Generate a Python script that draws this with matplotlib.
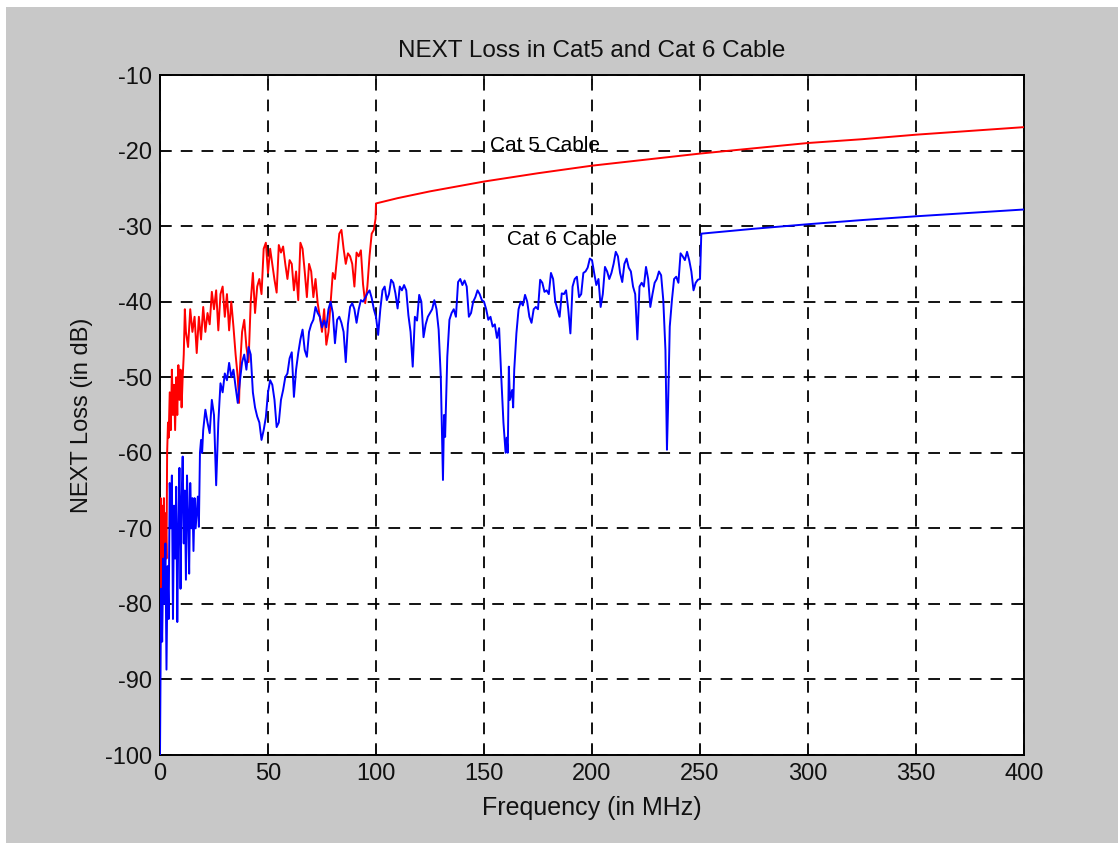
import matplotlib
matplotlib.use("Agg")
import matplotlib.pyplot as plt
from matplotlib.patches import Rectangle

# ---------------- data ----------------
cat5_freq = [0, 0.3, 0.7, 1, 1.4, 1.8, 2.2, 2.6, 3, 3.3, 3.7, 4, 4.5, 5, 5.5, 6, 6.5, 7, 7.5, 8,
             8.5, 9, 9.5, 10, 10.5, 11, 11.5, 12, 13, 14, 15, 16, 17, 18, 19, 20, 21, 22, 23, 24,
             25, 26, 27, 28, 29, 30, 31, 32, 33, 34, 35, 36, 36.6, 37, 38, 39, 40, 41, 42, 43,
             44, 45, 46, 47, 48, 49, 50, 51, 52, 53, 54, 55, 56, 57, 58, 59, 60, 61, 62, 63,
             64, 65, 66, 67, 68, 69, 70, 71, 72, 73, 74, 75, 76, 77, 78, 79, 80, 81, 82, 83,
             84, 85, 86, 87, 88, 89, 90, 91, 92, 93, 94, 95, 96, 97, 98, 99, 99.8, 100,
             110, 125, 150, 175, 200, 225, 250, 275, 300, 325, 350, 375, 400]
cat5_next = [-85, -66, -79, -67, -77, -66, -78, -68, -74, -60, -56, -58, -52, -57, -49, -55, -51, -57, -50, -55,
             -48.4, -53, -49, -54, -50, -47, -41, -44, -46, -41, -44, -42, -46.8, -42, -45, -40.7, -44, -41.5, -43, -38.7,
             -41, -38.5, -43.8, -39, -38, -42, -39, -43.8, -40, -43.3, -47, -50, -53.4, -49, -44, -42.4, -46, -48, -40, -36.2,
             -41.5, -38, -37, -39, -33, -32.2, -36.2, -33, -35, -37.1, -38.8, -32.5, -33.5, -32.7, -35, -37, -34.5, -35, -38.5, -36,
             -39.8, -32.2, -33, -36, -39.4, -35, -36, -39.4, -37, -40.2, -42, -44, -41, -45.7, -44, -40, -36.2, -37, -34, -31,
             -30.5, -33, -35, -33.6, -34, -35, -38, -33.5, -34, -33.2, -37.7, -40.2, -38, -34, -31, -30.5, -29, -27,
             -26.3, -25.4, -24.1, -23.0, -22.0, -21.2, -20.4, -19.7, -19.0, -18.5, -17.9, -17.4, -16.9]

cat6_freq = [0, 0.5, 1, 1.5, 2, 2.5, 3, 3.5, 4, 4.5, 5, 5.5, 6, 6.5, 7, 7.5, 8, 8.5, 9, 9.5,
             10, 10.5, 11, 11.5, 12, 12.5, 13, 13.5, 14, 14.5, 15, 15.5, 16, 16.5, 17, 17.5, 18, 18.5, 19, 19.5,
             20, 21, 22, 23, 24, 25, 26, 27, 28, 29, 30, 31, 32, 33, 34, 35, 36, 37, 38, 39,
             40, 41, 42, 43, 44, 45, 46, 47, 48, 49, 50, 51, 52, 53, 54, 55, 56, 57, 58, 59,
             60, 61, 62, 63, 64, 65, 66, 67, 68, 69, 70, 71, 72, 73, 74, 75, 76, 77, 78, 79,
             80, 81, 82, 83, 84, 85, 86, 87, 88, 89, 90, 91, 92, 93, 94, 95, 96, 97, 98, 99,
             100, 101, 102, 103, 104, 105, 106, 107, 108, 109, 110, 111, 112, 113, 114, 115, 116, 117, 118, 119,
             120, 121, 122, 123, 124, 125, 126, 127, 128, 129, 130, 131, 131.5, 132, 133, 134, 135, 136, 137, 138,
             139, 140, 141, 142, 143, 144, 145, 146, 147, 148, 149, 150, 151, 152, 153, 154, 155, 156, 157, 158,
             159, 160, 160.5, 161, 161.5, 162, 163, 163.5, 164, 165, 166, 167, 168, 169, 170, 171, 172, 173, 174, 175,
             176, 177, 178, 179, 180, 181, 182, 183, 184, 185, 186, 187, 188, 189, 190, 191, 192, 193, 194, 195,
             196, 197, 198, 199, 200, 201, 202, 203, 204, 205, 206, 207, 208, 209, 210, 211, 212, 213, 214, 215,
             216, 217, 218, 219, 220, 221, 222, 223, 224, 225, 226, 227, 228, 229, 230, 231, 232, 233, 234, 234.7,
             235.2, 236, 237, 238, 239, 240, 241, 242, 243, 244, 245, 246, 247, 248, 249, 250, 250.6,
             275, 300, 325, 350, 375, 400]
cat6_next = [-100, -78, -85, -74, -80, -72, -88.7, -75, -82, -64, -70, -63, -82, -67, -74, -64.5, -82.4, -70, -62, -78,
             -66, -60.5, -72, -65, -76.8, -63, -68, -76, -64, -70, -66, -73, -66, -70, -68, -65.8, -69.8, -60, -58.3, -60,
             -57, -54.3, -56, -57.4, -53, -55, -64.3, -56, -50.8, -52, -49.5, -50.4, -48.1, -50, -49, -51.3, -53.4, -50.5, -48, -47,
             -49, -46, -47, -52, -54, -55.2, -56, -58.3, -57, -55.3, -52, -50.4, -51, -53, -56.6, -56, -53, -51.7, -50, -49.5,
             -47.5, -46.7, -52.6, -49, -46.8, -45, -43.7, -46.4, -47.3, -44, -43, -42.4, -40.7, -41.5, -42, -43.4, -42.5, -43.4, -41, -40,
             -41.5, -45.5, -42.4, -42, -42.8, -44, -48, -43, -40.7, -40.2, -41, -42.8, -41, -39.8, -40, -39.5, -38.9, -38.5, -39.5, -41,
             -42, -44.4, -41, -38.5, -38, -39.8, -39, -37.1, -37.5, -38.9, -40.9, -38, -38.5, -37.8, -38.5, -41.8, -44, -48.6, -42, -42.5,
             -39.1, -40, -44.7, -43, -42, -41.5, -41, -39.8, -41, -43.7, -50, -63.6, -55, -57.9, -47.3, -42.4, -41.5, -41, -42, -37.4,
             -37, -37.8, -37.2, -38, -42, -41.5, -40, -39.4, -38.5, -39, -39.8, -40, -41, -42.4, -42, -43.3, -43, -44.8, -43.5, -50,
             -56, -60, -58, -60, -48.6, -53, -51.7, -54, -49, -44.2, -41, -40, -40.5, -39.1, -40, -42, -42.8, -41, -40.7, -41,
             -37.1, -37.5, -38.7, -38.5, -39, -36.2, -37, -40, -41, -42, -38.9, -39, -38.5, -41, -44.2, -38, -37, -36.7, -39.4, -39,
             -36.2, -36, -35.5, -34.3, -34.5, -36.2, -37.8, -37, -40.7, -39, -35.4, -36, -37, -36.2, -35, -33.4, -34, -36.2, -37.4, -35,
             -34.3, -35.5, -36, -38, -39, -45, -38, -37.5, -38, -35.4, -37, -40.7, -39, -37.5, -37, -36, -36.5, -39.8, -46.4, -59.6,
             -54, -43.3, -39.8, -37, -36.7, -37.5, -33.6, -34, -34.5, -33.4, -34.5, -36, -38.5, -37.5, -37.1, -37, -31.0,
             -30.35, -29.75, -29.2, -28.7, -28.25, -27.8]

x_ticks = [0, 50, 100, 150, 200, 250, 300, 350, 400]
y_ticks = [-100, -90, -80, -70, -60, -50, -40, -30, -20, -10]

title_text = "NEXT Loss in Cat5 and Cat 6 Cable"
x_label = "Frequency (in MHz)"
y_label = "NEXT Loss (in dB)"
label_cat5 = ("Cat 5 Cable", 153, -19.3)
label_cat6 = ("Cat 6 Cable", 160.5, -31.8)

# ---------------- figure ----------------
plt.rcParams['font.family'] = ['Liberation Sans', 'DejaVu Sans']
fig = plt.figure(figsize=(11.18, 8.43), dpi=100, facecolor='white')
fig.patches.append(Rectangle((6 / 1118, 0), 1 - 6 / 1118, 1 - 7 / 843,
                             transform=fig.transFigure, facecolor='#c8c8c8',
                             edgecolor='none', zorder=-10))

ax = fig.add_axes([160 / 1118, 88 / 843, 864 / 1118, 680 / 843])
ax.set_facecolor('white')

ax.plot(cat5_freq, cat5_next, color='#ff0000', lw=1.4, zorder=3)
ax.plot(cat6_freq, cat6_next, color='#0000ff', lw=1.4, zorder=3)

ax.set_xlim(0, 400)
ax.set_ylim(-100, -10)
ax.set_xticks(x_ticks)
ax.set_yticks(y_ticks)
ax.set_xticklabels([str(v) for v in x_ticks])
ax.set_yticklabels([str(v) for v in y_ticks])

ax.grid(True, color='black', linestyle=(0, (6.5, 5.0)), linewidth=1.3)
ax.set_axisbelow(True)
ax.tick_params(direction='in', length=7, width=1.2, top=True, right=True,
               labelsize=17, colors='#111111', pad=6)
for sp in ax.spines.values():
    sp.set_linewidth(1.4)
    sp.set_color('black')

ax.set_title(title_text, fontsize=17.5, pad=13, color='#111111')
ax.set_xlabel(x_label, fontsize=18, labelpad=8, color='#111111')
ax.set_ylabel(y_label, fontsize=17, labelpad=8, color='#111111')

ax.text(label_cat5[1], label_cat5[2], label_cat5[0], fontsize=15, va='center', ha='left')
ax.text(label_cat6[1], label_cat6[2], label_cat6[0], fontsize=15, va='center', ha='left')

fig.savefig('out.png', dpi=100, facecolor=fig.get_facecolor())
